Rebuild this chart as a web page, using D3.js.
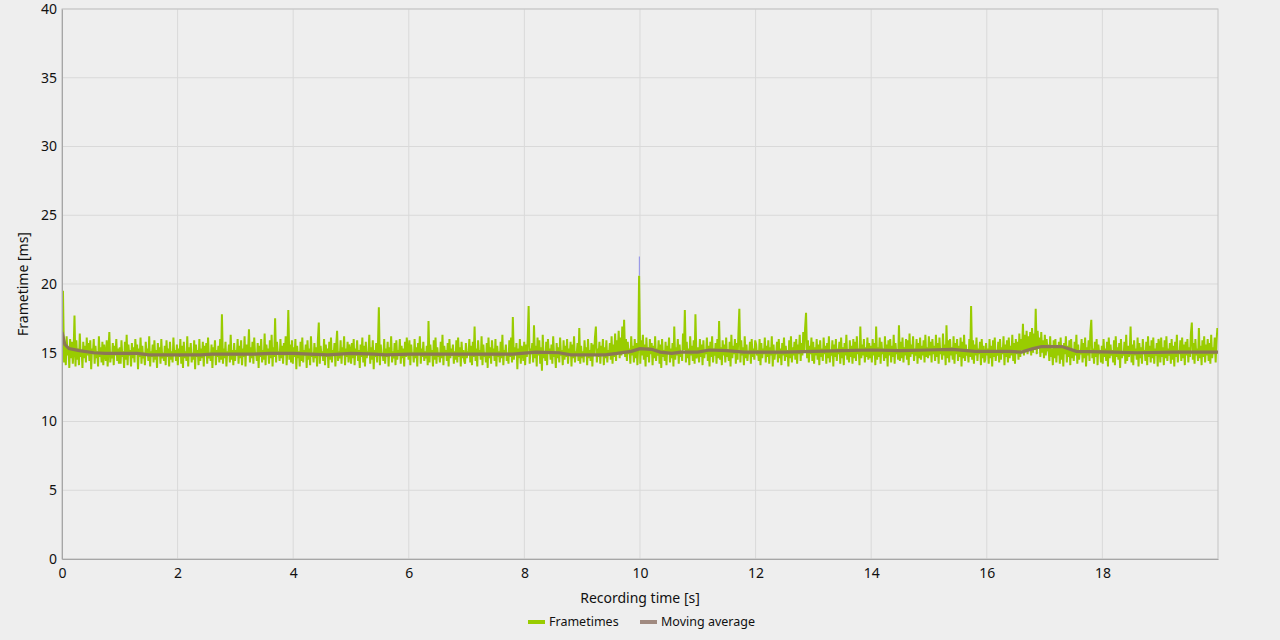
<!DOCTYPE html>
<html>
<head>
<meta charset="utf-8">
<script src="https://cdn.jsdelivr.net/npm/d3@7"></script>
<style>
  html, body { margin: 0; padding: 0; background: #eeeeee; }
  svg { display: block; font-family: "Noto Sans", "Open Sans", sans-serif; }
  .tick text { fill: #111; font-size: 14px; }
</style>
</head>
<body>
<div id="chart"></div>
<script>
// frametimes in ms, one per frame, in recording order (about one second per line)
const frametimes = `
16.6 19.5 14.3 15.6 14.1 16.2 14.8 15.4 13.9 16.0 14.6 15.8 14.2 15.1 17.7 14.0 15.9 14.5 15.3 14.1 16.4 14.7 15.2 13.9 15.8 14.6 15.5 14.3 16.1 14.8 15.7 14.4 15.9 13.8 15.3 14.9 16.0 14.2 15.5 14.6 15.1 14.0 16.2 14.7 15.4 14.3 15.8 14.1 15.6 14.9 14.4 15.9 14.0 15.2 16.5 14.3 15.0 14.6 15.7 14.1 15.5 14.8 16.0 14.4 15.3 14.2
15.4 14.2 15.9 14.7 15.1 13.9 15.8 14.5 16.3 14.1 15.6 14.8 15.2 14.0 15.7 14.6 15.4 14.3 16.0 14.9 15.6 13.8 15.3 14.7 16.1 14.2 15.5 14.6 15.0 14.1 15.8 14.8 15.3 14.4 16.2 14.0 15.1 14.7 15.6 14.3 15.9 14.5 15.2 13.9 15.7 14.8 15.4 14.2 16.0 14.6 15.0 14.4 15.5 14.1 15.9 14.7 15.3 14.0 15.8 14.5 15.1 14.3 16.1 14.8 15.2 14.4
15.6 14.1 15.3 14.7 16.0 14.2 15.5 13.9 15.8 14.6 15.1 14.4 16.2 14.0 15.4 14.8 15.7 14.3 15.0 14.5 15.9 13.8 15.6 14.7 15.2 14.1 16.0 14.4 15.3 14.6 15.8 14.0 15.5 14.9 15.7 14.2 16.1 14.6 15.0 14.4 15.6 13.9 15.4 14.8 15.9 14.1 15.2 14.7 15.5 14.3 16.0 14.5 17.8 14.2 15.3 14.6 15.8 14.0 15.1 14.8 15.6 14.3 16.3 14.5 15.2 14.1
15.7 14.4 15.2 14.8 16.0 14.2 15.5 14.6 15.9 14.1 15.3 14.7 16.2 14.0 15.6 14.9 15.1 16.7 14.3 15.4 14.6 15.8 14.2 16.1 14.8 15.0 14.4 15.7 13.9 15.5 14.7 16.0 14.3 15.2 14.5 16.4 14.1 15.6 14.8 15.3 14.2 15.9 14.6 16.3 14.0 15.4 14.7 17.5 14.3 15.8 14.9 15.1 14.4 16.0 14.6 15.5 14.2 15.7 14.8 16.2 14.1 15.3 18.1 14.5 15.6 14.3 15.9
14.2 15.4 14.7 16.0 13.8 15.5 14.6 15.1 14.0 15.8 14.4 16.1 14.3 15.2 14.8 15.6 13.9 15.9 14.5 15.3 14.1 16.2 14.7 15.0 14.3 15.7 14.6 15.4 14.0 15.9 17.2 14.2 15.5 14.8 15.1 14.4 16.0 14.1 15.6 14.7 15.3 13.9 15.8 14.5 16.1 14.3 15.2 14.8 15.7 14.0 15.5 16.6 14.4 15.1 14.6 15.9 14.2 15.4 14.9 16.2 14.1 15.3 14.7 15.8 14.3 15.6
15.1 14.2 15.7 14.6 16.0 14.1 15.3 14.8 15.9 14.4 15.2 13.9 15.6 14.7 16.1 14.3 15.5 14.0 15.8 14.6 15.1 14.9 16.3 14.2 15.4 14.5 15.9 13.8 15.2 14.7 15.7 14.3 15.5 18.3 14.1 15.6 14.8 15.0 14.4 16.0 14.2 15.3 14.7 15.8 14.0 15.4 14.9 16.2 14.3 15.1 14.6 15.7 14.1 15.9 14.5 15.2 14.8 16.0 14.2 15.5 14.6 15.3 14.0 15.8 14.7 16.1
15.2 14.5 15.9 14.1 15.6 14.8 15.0 14.3 16.0 14.6 15.4 14.0 15.7 14.9 16.2 14.2 15.3 14.7 15.8 14.4 15.1 14.6 15.5 14.1 17.3 14.3 15.6 14.8 15.2 14.0 15.9 14.5 16.1 14.2 15.4 14.7 15.0 14.3 15.8 14.6 16.3 14.1 15.5 14.9 15.2 14.4 15.7 14.0 16.0 14.6 15.3 14.8 15.6 14.2 15.1 14.5 15.9 14.3 16.1 14.7 15.4 14.0 15.8 14.6 15.2 14.4
14.2 15.7 14.6 15.1 14.9 16.0 14.3 15.5 14.1 15.8 14.7 16.9 14.4 15.3 14.0 15.9 14.8 15.2 14.5 16.2 14.1 15.6 14.7 15.0 14.3 15.7 13.9 16.1 14.6 15.4 14.2 15.9 14.8 15.3 14.4 16.0 14.0 15.5 14.7 15.1 14.3 15.8 14.6 16.3 14.1 15.2 14.9 15.6 14.4 15.0 14.2 15.9 14.7 16.1 14.3 17.6 14.5 15.4 14.8 15.7 13.8 15.3 14.6 16.0 14.2 15.5
15.2 14.4 15.8 14.1 15.6 14.7 16.0 18.4 14.2 15.3 14.9 15.7 14.3 17.0 14.6 15.5 14.0 16.1 14.8 15.9 14.2 15.4 13.7 16.3 14.6 15.1 14.4 15.8 14.1 16.0 14.9 15.3 14.5 15.6 14.2 16.2 14.7 15.0 13.9 15.7 14.6 15.4 14.3 16.1 14.8 15.2 14.1 15.9 14.5 15.5 14.7 16.0 14.2 15.3 14.8 15.8 14.0 15.6 14.6 16.2 14.3 15.1 14.9 15.7 14.4 16.8 14.2
15.5 14.6 15.1 14.3 15.9 14.8 15.4 14.1 16.0 14.6 15.2 14.4 15.7 14.0 15.6 14.8 16.1 16.9 14.3 15.3 14.7 15.8 14.2 15.5 14.9 16.0 14.1 15.4 14.6 15.9 14.3 15.2 14.8 15.7 14.5 16.2 14.2 15.6 14.7 16.4 14.4 15.9 15.0 16.6 14.6 16.1 14.8 16.9 15.1 17.4 14.7 16.0 14.4 15.8 14.9 15.3 14.2 16.2 14.8 15.5 14.3 16.0 14.6 15.7 14.1 15.4 20.6
14.2 15.9 14.8 16.3 14.5 15.6 14.0 16.1 14.7 15.4 14.3 16.0 14.9 15.7 14.1 15.5 14.6 16.2 14.4 15.3 14.8 15.9 14.2 15.6 13.9 16.0 14.7 15.2 14.4 15.8 14.1 15.5 14.9 16.1 14.3 15.3 14.6 15.7 14.0 16.9 14.5 15.4 14.8 16.0 14.2 15.6 14.7 15.1 14.4 16.4 15.2 18.1 14.3 15.8 14.6 15.3 14.1 16.2 14.8 15.5 14.4 15.9 14.2 17.8 14.6 15.0
15.4 14.3 16.0 14.7 15.6 14.1 15.9 14.6 15.2 14.9 16.1 14.4 15.5 14.0 15.8 14.7 16.2 14.3 15.3 14.8 15.7 14.2 16.0 14.6 17.3 14.5 15.4 14.1 15.9 14.8 15.6 14.3 16.1 14.7 15.2 14.4 15.8 14.0 16.3 14.6 15.5 14.9 16.0 14.2 15.7 14.5 16.4 18.2 14.3 15.9 14.8 15.4 14.1 16.2 14.6 15.6 14.4 15.1 14.9 15.8 14.2 16.0 14.7 15.3 14.5 15.9
15.6 14.8 15.2 14.4 16.0 14.1 15.7 14.6 15.3 14.9 16.1 14.3 15.5 14.7 15.9 14.2 15.4 14.8 16.2 14.0 15.6 14.5 15.1 14.9 15.8 14.3 16.0 14.6 15.3 14.1 15.7 14.8 16.1 14.4 15.5 14.7 15.2 14.0 15.9 14.6 16.2 14.3 15.4 14.8 15.8 14.5 16.0 14.2 15.6 14.9 16.3 14.4 15.7 14.8 16.5 15.0 16.8 17.9 14.6 15.9 14.3 15.5 14.9 16.1 14.4
15.8 14.2 15.4 14.8 16.0 14.5 15.6 14.1 15.9 14.7 15.3 14.4 16.1 14.9 15.5 14.2 15.7 14.6 16.2 14.3 15.2 14.8 15.9 14.0 15.6 14.7 16.0 14.4 15.3 14.9 15.8 14.2 16.1 14.6 15.4 14.1 15.7 14.8 16.3 14.5 15.1 14.3 15.9 14.7 15.5 14.2 16.0 14.6 15.8 14.4 16.2 14.9 15.3 14.1 16.9 14.6 15.6 14.8 16.0 14.3 15.4 14.7 16.1 14.5 15.7
14.6 15.5 14.3 16.0 14.8 15.7 14.1 16.9 14.5 15.4 14.7 16.1 14.2 15.8 14.9 15.3 14.4 16.2 14.6 15.6 14.0 15.9 14.8 16.0 14.3 15.5 14.7 16.3 14.2 15.7 14.9 15.2 14.5 17.0 14.4 15.8 14.6 16.1 14.3 15.4 14.8 16.0 14.5 15.9 14.1 16.4 14.7 15.6 14.9 16.2 14.4 15.3 14.8 16.0 14.2 15.7 14.6 16.1 14.5 15.5 14.8 15.9 14.3 16.3 14.7
15.4 14.6 16.2 14.8 15.8 14.3 16.0 14.9 15.5 14.4 16.3 14.7 15.7 14.2 16.1 14.9 15.3 14.5 16.4 14.8 15.6 14.1 17.0 14.6 15.9 14.3 16.0 14.8 15.4 14.5 16.2 14.2 15.7 14.9 16.0 14.4 15.5 14.7 16.1 14.0 15.8 14.6 16.3 14.4 15.6 14.8 15.2 14.3 16.0 14.7 18.4 14.5 15.9 14.2 15.6 14.8 16.1 14.4 15.3 14.9 15.8 14.1 16.0 14.6 15.5 14.3
14.5 15.7 14.8 15.3 14.2 16.0 14.6 15.5 14.0 15.9 14.7 16.1 14.4 15.2 14.8 15.8 14.3 16.0 14.5 15.4 14.9 16.2 14.1 15.6 14.7 15.9 14.3 16.1 14.6 15.5 14.8 16.3 14.4 15.7 14.2 16.0 14.9 15.8 14.5 16.4 14.7 16.0 15.2 17.1 14.8 16.3 15.1 16.6 14.9 16.2 15.3 16.5 14.8 16.8 15.0 16.4 15.2 18.2 14.9 16.6 15.4 16.1 14.7 16.5 15.0 15.9 14.6
16.3 14.8 16.0 15.1 15.6 14.4 16.2 14.7 15.3 14.1 15.9 14.6 16.0 14.3 15.5 14.8 15.8 14.2 16.1 14.5 15.4 14.0 15.7 14.9 16.2 14.3 15.5 14.7 15.9 14.1 16.0 14.6 15.2 14.4 15.8 14.8 16.3 14.2 15.6 14.5 15.1 14.9 16.0 14.3 15.7 14.6 16.1 14.0 15.4 14.8 15.9 14.4 16.5 17.4 14.6 15.3 14.2 15.8 14.7 16.0 14.1 15.6 14.9 15.2 14.3
15.5 14.2 16.0 14.7 15.3 14.4 15.8 14.0 16.1 14.6 15.6 14.8 15.2 14.3 15.9 14.1 16.2 14.7 15.4 14.5 15.7 13.9 16.0 14.6 15.1 14.8 15.8 14.2 16.3 14.4 15.5 14.7 15.0 16.9 14.3 15.6 14.1 15.9 14.8 15.3 14.5 16.1 14.0 15.7 14.6 15.4 14.2 16.0 14.9 15.2 14.4 15.8 14.1 16.2 14.7 15.5 14.3 15.9 14.6 16.1 14.2 15.3 14.8 15.7 14.0 16.0
15.6 14.3 16.1 14.7 15.4 14.1 15.9 14.6 16.2 14.4 15.3 14.8 15.7 14.2 16.0 14.5 15.5 14.0 15.8 14.7 16.3 14.3 15.2 14.9 15.9 14.4 16.1 14.6 15.6 14.1 15.8 14.8 16.0 14.3 15.4 14.7 16.4 17.2 14.5 15.7 14.2 16.0 14.8 15.3 14.4 16.8 14.6 15.5 14.1 15.9 14.7 16.2 14.3 15.6 14.8 16.0 14.4 15.7 14.2 16.3 14.6 15.4 14.9 16.1 14.3 15.8 16.8
`.trim().split(/\s+/).map(Number);

// moving average: [time s, ms]
const movingAvg = [
  [0.00, 16.5], [0.05, 15.6], [0.12, 15.3], [0.30, 15.15], [0.55, 15.0], [0.75, 14.95],
  [1.30, 14.95], [1.50, 14.85], [2.40, 14.85], [2.60, 14.9], [3.30, 14.9], [3.60, 14.95],
  [4.00, 14.95], [4.30, 14.9], [4.60, 14.85], [5.00, 14.95], [5.40, 14.9], [5.60, 14.85],
  [6.00, 14.9], [7.00, 14.9], [7.80, 14.9], [8.20, 15.05], [8.60, 15.0], [8.80, 14.85],
  [9.40, 14.85], [9.60, 14.95], [9.85, 15.1], [10.00, 15.3], [10.20, 15.25], [10.35, 15.05],
  [10.55, 14.95], [10.70, 15.05], [11.00, 15.05], [11.20, 15.2], [11.50, 15.15], [11.80, 15.05],
  [12.50, 15.05], [13.00, 15.1], [13.50, 15.15], [14.00, 15.2], [14.50, 15.15], [15.00, 15.2],
  [15.40, 15.25], [15.80, 15.1], [16.40, 15.1], [16.60, 15.05], [16.80, 15.3], [16.95, 15.45],
  [17.30, 15.45], [17.55, 15.1], [18.20, 15.05], [18.60, 15.0], [19.20, 15.05], [20.00, 15.05]
];

// short second series visible above the big frame near 10 s: [time s, ms]
const otherSpike = [[9.99, 20.6], [9.99, 22.0]];

const yTicks = [0, 5, 10, 15, 20, 25, 30, 35, 40];
const xTicks = [0, 2, 4, 6, 8, 10, 12, 14, 16, 18];

const W = 1280, H = 640;
const margin = { top: 9, right: 62, bottom: 81, left: 62 };
const innerW = W - margin.left - margin.right;
const innerH = H - margin.top - margin.bottom;

// x of each frame is the running sum of the previous frametimes
let acc = 0;
const frames = frametimes.map(ft => {
  const p = { t: acc / 1000, v: ft };
  acc += ft;
  return p;
});

const x = d3.scaleLinear().domain([0, 20]).range([0, innerW]);
const y = d3.scaleLinear().domain([0, 40]).range([innerH, 0]);

const svg = d3.select("#chart").append("svg")
  .attr("width", W)
  .attr("height", H);

svg.append("rect").attr("width", W).attr("height", H).attr("fill", "#eeeeee");

const g = svg.append("g").attr("transform", `translate(${margin.left},${margin.top})`);

g.append("clipPath").attr("id", "clip")
  .append("rect").attr("width", innerW).attr("height", innerH);

// grid
g.append("g")
  .selectAll("line")
  .data(yTicks)
  .join("line")
  .attr("x1", 0).attr("x2", innerW)
  .attr("y1", d => y(d)).attr("y2", d => y(d))
  .attr("stroke", "#d9d9d9");

g.append("g")
  .selectAll("line")
  .data(xTicks)
  .join("line")
  .attr("x1", d => x(d)).attr("x2", d => x(d))
  .attr("y1", 0).attr("y2", innerH)
  .attr("stroke", "#d9d9d9");

// frame
g.append("rect")
  .attr("width", innerW).attr("height", innerH)
  .attr("fill", "none").attr("stroke", "#c4c4c4");

const plot = g.append("g").attr("clip-path", "url(#clip)");

plot.append("path")
  .datum(otherSpike)
  .attr("fill", "none")
  .attr("stroke", "#9a9ae6")
  .attr("stroke-width", 1.2)
  .attr("d", d3.line().x(d => x(d[0])).y(d => y(d[1])));

plot.append("path")
  .datum(frames)
  .attr("fill", "none")
  .attr("stroke", "#99cc00")
  .attr("stroke-width", 2)
  .attr("stroke-linejoin", "miter")
  .attr("d", d3.line().x(d => x(d.t)).y(d => y(d.v)));

plot.append("path")
  .datum(movingAvg)
  .attr("fill", "none")
  .attr("stroke", "#8c7757")
  .attr("stroke-width", 3.2)
  .attr("d", d3.line().x(d => x(d[0])).y(d => y(d[1])));

// axes
const xAxis = g.append("g")
  .attr("transform", `translate(0,${innerH})`)
  .call(d3.axisBottom(x).tickValues(xTicks).tickSize(0).tickPadding(9));
xAxis.select(".domain").attr("stroke", "#a6a6a6");

const yAxis = g.append("g")
  .call(d3.axisLeft(y).tickValues(yTicks).tickSize(0).tickPadding(5));
yAxis.select(".domain").attr("stroke", "#a6a6a6");

svg.selectAll(".tick text").attr("font-family", "Noto Sans, sans-serif");

// axis titles
svg.append("text")
  .attr("x", margin.left + innerW / 2)
  .attr("y", 603)
  .attr("text-anchor", "middle")
  .attr("font-size", 14)
  .attr("fill", "#111")
  .text("Recording time [s]");

svg.append("text")
  .attr("transform", `translate(28,${margin.top + innerH / 2}) rotate(-90)`)
  .attr("text-anchor", "middle")
  .attr("font-size", 14)
  .attr("fill", "#111")
  .text("Frametime [ms]");

// legend
const legendItems = [
  { name: "Frametimes", color: "#99cc00", x: 528 },
  { name: "Moving average", color: "#a08a80", x: 640 }
];
const legend = svg.append("g").selectAll("g")
  .data(legendItems)
  .join("g")
  .attr("transform", d => `translate(${d.x},622)`);
legend.append("rect")
  .attr("y", -2).attr("width", 17).attr("height", 4)
  .attr("fill", d => d.color);
legend.append("text")
  .attr("x", 21).attr("dy", "0.35em")
  .attr("font-size", 12.5)
  .attr("fill", "#111")
  .text(d => d.name);
</script>
</body>
</html>
